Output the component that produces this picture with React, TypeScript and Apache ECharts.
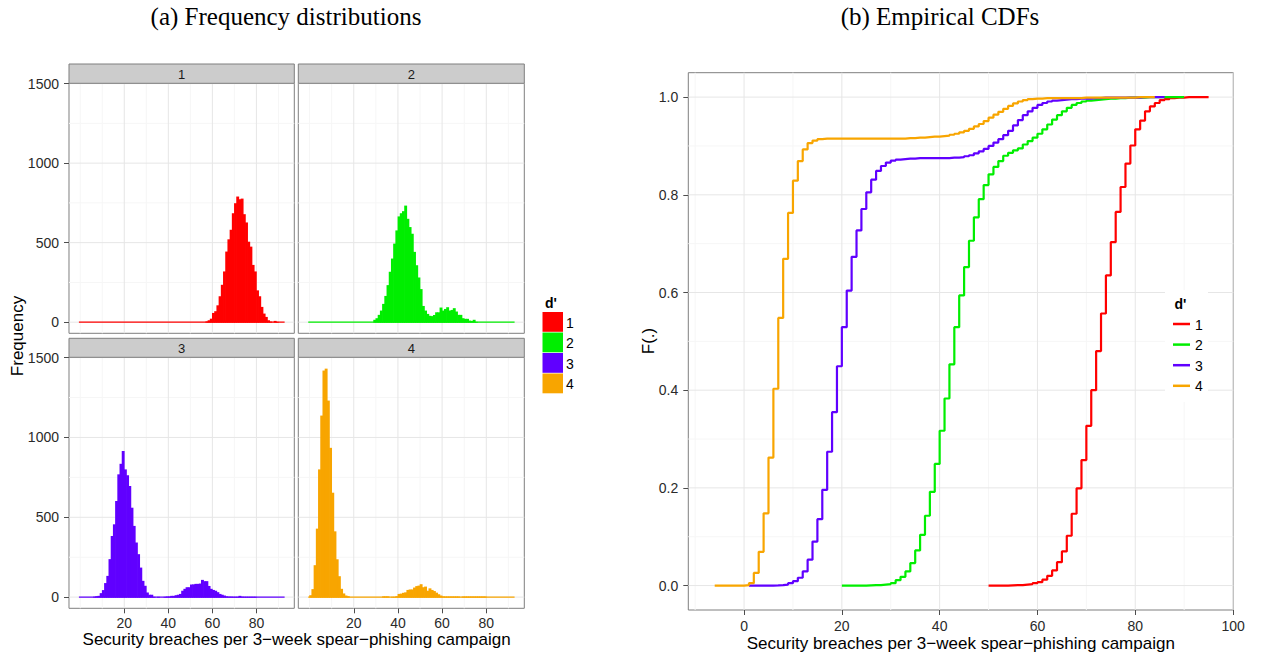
import React, { useEffect, useRef } from 'react';
import * as echarts from 'echarts';

// ---------- data ----------
const GROUPS = ['1', '2', '3', '4'];
const COLORS = ['#FF0000', '#00EE00', '#6000FF', '#F8A500'];

// histogram counts per unit bin [k, k+1), starting at HIST_STARTS[g]
const HIST_STARTS = [57, 29, 6, 0];
const HIST_1 = [5, 12, 22, 58, 69, 106, 163, 235, 319, 444, 521, 581, 685, 748, 790, 773, 777, 679, 627, 506, 475, 360, 319, 200, 163, 96, 54, 33, 12, 4, 0, 8, 2];
const HIST_2 = [15, 25, 46, 73, 115, 165, 233, 317, 400, 494, 577, 665, 685, 698, 733, 650, 598, 556, 442, 358, 281, 208, 102, 73, 52, 40, 38, 45, 62, 62, 92, 73, 83, 94, 73, 77, 88, 67, 46, 46, 25, 21, 21, 10, 8, 15, 2];
const HIST_3 = [3, 6, 8, 25, 44, 88, 133, 238, 383, 456, 602, 769, 835, 915, 800, 763, 696, 560, 446, 342, 269, 185, 102, 71, 29, 15, 15, 2, 0, 2, 0, 0, 2, 4, 4, 8, 8, 12, 15, 20, 40, 52, 62, 62, 79, 80, 83, 83, 85, 108, 100, 100, 70, 52, 45, 40, 31, 20, 15, 10, 5, 3, 3, 2, 2, 2, 8, 3, 2, 2, 2, 2, 2, 2];
const HIST_4 = [12, 50, 200, 429, 800, 1137, 1419, 1431, 1231, 935, 654, 412, 237, 131, 52, 23, 10, 6, 0, 0, 0, 0, 0, 0, 0, 0, 0, 0, 0, 0, 0, 0, 0, 5, 5, 5, 0, 2, 2, 6, 20, 22, 27, 30, 45, 48, 48, 60, 69, 72, 81, 62, 66, 40, 55, 45, 38, 28, 18, 10, 5, 4, 4, 4, 4, 4, 4, 4, 0, 4, 4, 4, 4, 4, 4, 4, 4, 4, 4, 4];
const HISTS = [HIST_1, HIST_2, HIST_3, HIST_4];
const BIN_RANGE = [-0.6, 92.8];

// empirical CDF value at each integer, starting at CDF_STARTS[g]
const CDF_STARTS = [50, 20, 1, -6];
const CDF_1 = [0, 0, 0, 0, 0.0005, 0.001, 0.001, 0.002, 0.003, 0.005,
  0.007, 0.012, 0.020, 0.031, 0.048, 0.070, 0.102, 0.147, 0.199, 0.257,
  0.327, 0.400, 0.480, 0.557, 0.635, 0.703, 0.765, 0.816, 0.864, 0.901,
  0.934, 0.952, 0.971, 0.981, 0.988, 0.994, 0.996, 0.998, 0.999, 0.999,
  1, 1, 1, 1, 1, 1];
const CDF_2 = [0, 0, 0, 0, 0, 0.0005, 0.001, 0.001, 0.002, 0.003,
  0.005, 0.011, 0.018, 0.029, 0.046, 0.072, 0.104, 0.143, 0.192, 0.249,
  0.317, 0.383, 0.453, 0.529, 0.594, 0.652, 0.706, 0.754, 0.791, 0.820,
  0.842, 0.857, 0.869, 0.880, 0.886, 0.891, 0.895, 0.903, 0.910, 0.917,
  0.925, 0.934, 0.944, 0.954, 0.963, 0.971, 0.978, 0.984, 0.988, 0.991,
  0.993, 0.994, 0.995, 0.996, 0.997, 0.997, 0.998, 0.998, 0.999, 0.999,
  0.999, 0.999, 1, 1, 1, 1, 1, 1, 1, 1, 1];
const CDF_3 = [0, 0, 0, 0, 0, 0.0003, 0.0008, 0.002, 0.005, 0.009,
  0.016, 0.029, 0.053, 0.090, 0.136, 0.196, 0.274, 0.355, 0.449, 0.529,
  0.604, 0.673, 0.727, 0.771, 0.805, 0.831, 0.849, 0.859, 0.866, 0.870,
  0.872, 0.873, 0.874, 0.874, 0.875, 0.875, 0.875, 0.875, 0.875, 0.875,
  0.875, 0.876, 0.876, 0.877, 0.879, 0.881, 0.885, 0.889, 0.894, 0.900,
  0.907, 0.914, 0.922, 0.931, 0.942, 0.953, 0.963, 0.971, 0.978, 0.984,
  0.988, 0.991, 0.993, 0.994, 0.995, 0.996, 0.996, 0.997, 0.997, 0.997,
  0.998, 0.998, 0.999, 0.999, 0.999, 0.999, 0.999, 0.999, 0.999, 0.999,
  1, 1, 1, 1, 1, 1];
const CDF_4 = [0, 0, 0, 0, 0, 0,
  0.001, 0.005, 0.026, 0.069, 0.148, 0.262, 0.403, 0.548, 0.669, 0.763,
  0.829, 0.869, 0.893, 0.906, 0.911, 0.914, 0.915, 0.915, 0.915, 0.915,
  0.915, 0.915, 0.915, 0.915, 0.915, 0.915, 0.915, 0.915, 0.915, 0.915,
  0.915, 0.915, 0.915, 0.916, 0.916, 0.917, 0.917, 0.918, 0.919, 0.919,
  0.920, 0.921, 0.923, 0.925, 0.928, 0.931, 0.935, 0.940, 0.945, 0.951,
  0.958, 0.964, 0.970, 0.976, 0.982, 0.987, 0.991, 0.994, 0.996, 0.997,
  0.997, 0.998, 0.998, 0.998, 0.998, 0.998, 0.998, 0.998, 0.998, 0.999,
  0.999, 0.999, 0.999, 0.999, 0.999, 0.999, 0.999, 0.999, 0.999, 0.999,
  1, 1, 1, 1, 1];
const CDFS = [CDF_1, CDF_2, CDF_3, CDF_4];

// axis breaks
const HX_BREAKS = [20, 40, 60, 80];
const HX_MINOR = [0, 10, 30, 50, 70, 90];
const HY_BREAKS = [0, 500, 1000, 1500];
const HY_MINOR = [250, 750, 1250];
const CX_BREAKS = [0, 20, 40, 60, 80, 100];
const CX_MINOR = [-10, 10, 30, 50, 70, 90];
const CY_BREAKS = [0, 0.2, 0.4, 0.6, 0.8, 1.0];
const CY_MINOR = [0.1, 0.3, 0.5, 0.7, 0.9];

const TITLE_A = '(a) Frequency distributions';
const TITLE_B = '(b) Empirical CDFs';
const X_TITLE = 'Security breaches per 3\u2212week spear\u2212phishing campaign';
const Y_TITLE_A = 'Frequency';
const Y_TITLE_B = 'F(.)';
const LEGEND_TITLE = "d'";

// ---------- styling / layout ----------
const SANS = '"Liberation Sans", Arial, Helvetica, sans-serif';
const SERIF = '"Liberation Serif", "Times New Roman", serif';
const MAJOR = '#e6e6e6';
const MINOR = '#f6f6f6';
const BORDER = '#7f7f7f';
const TICK_TXT = '#2a2a2a';

const PANELS = [
  { left: 69, top: 83.3, width: 225.3, height: 250 },
  { left: 298.3, top: 83.3, width: 226, height: 250 },
  { left: 69, top: 357.3, width: 225.3, height: 251 },
  { left: 298.3, top: 357.3, width: 226, height: 251 },
];
const CDF_GRID = { left: 688.3, top: 72.7, width: 545, height: 537.3 };
const HX_RANGE = [-5.1, 97.2];
const HY_RANGE = [-70, 1502];
const CX_RANGE = [-11.4, 100.05];
const CY_RANGE = [-0.05, 1.05];

function gridLineSeries(idx: number, xMaj: number[], xMin: number[], yMaj: number[], yMin: number[]) {
  const data = [
    ...xMin.map((v) => [v, 1]),
    ...yMin.map((v) => [v, 3]),
    ...xMaj.map((v) => [v, 0]),
    ...yMaj.map((v) => [v, 2]),
  ];
  return {
    type: 'custom',
    xAxisIndex: idx,
    yAxisIndex: idx,
    silent: true,
    z: 1,
    clip: false,
    data,
    renderItem: (params: any, api: any) => {
      const v = api.value(0);
      const k = api.value(1);
      const cs = params.coordSys;
      const stroke = k % 2 === 0 ? MAJOR : MINOR;
      if (k < 2) {
        const x = api.coord([v, 0])[0];
        return { type: 'line', shape: { x1: x, y1: cs.y, x2: x, y2: cs.y + cs.height }, style: { stroke, lineWidth: 1 } };
      }
      const y = api.coord([0, v])[1];
      return { type: 'line', shape: { x1: cs.x, y1: y, x2: cs.x + cs.width, y2: y }, style: { stroke, lineWidth: 1 } };
    },
  };
}

function axisCommon(show: boolean, values: number[], margin: number, fmt?: (v: number) => string) {
  return {
    splitLine: { show: false },
    axisLine: { show: false, onZero: false },
    axisTick: { show, length: 5, customValues: values, lineStyle: { color: '#4d4d4d', width: 1 } },
    axisLabel: {
      show,
      customValues: values,
      color: TICK_TXT,
      fontSize: 14,
      lineHeight: 12,
      fontFamily: SANS,
      margin,
      formatter: fmt ? (v: any) => fmt(Number(v)) : (v: any) => String(v),
    },
  };
}

function buildOption() {
  const grid: any[] = PANELS.map((p) => ({
    ...p,
    show: true,
    borderColor: BORDER,
    borderWidth: 1,
    backgroundColor: '#fff',
  }));
  grid.push({ ...CDF_GRID, show: true, borderColor: BORDER, borderWidth: 1, backgroundColor: '#fff' });

  const xAxis: any[] = PANELS.map((_, i) => ({
    type: 'value', gridIndex: i, min: HX_RANGE[0], max: HX_RANGE[1],
    ...axisCommon(i >= 2, HX_BREAKS, 9),
  }));
  xAxis.push({ type: 'value', gridIndex: 4, min: CX_RANGE[0], max: CX_RANGE[1], ...axisCommon(true, CX_BREAKS, 10) });

  const yAxis: any[] = PANELS.map((_, i) => ({
    type: 'value', gridIndex: i, min: HY_RANGE[0], max: HY_RANGE[1],
    ...axisCommon(i % 2 === 0, HY_BREAKS, 10),
  }));
  yAxis.push({
    type: 'value', gridIndex: 4, min: CY_RANGE[0], max: CY_RANGE[1],
    ...axisCommon(true, CY_BREAKS, 10, (v) => v.toFixed(1)),
  });

  const series: any[] = [];
  PANELS.forEach((_, i) => {
    series.push(gridLineSeries(i, HX_BREAKS, HX_MINOR, HY_BREAKS, HY_MINOR));
    series.push({
      type: 'line', xAxisIndex: i, yAxisIndex: i, silent: true, z: 2,
      data: [[BIN_RANGE[0], 0], [BIN_RANGE[1], 0]],
      symbol: 'none', lineStyle: { color: COLORS[i], width: 1.3 },
    });
    const start = HIST_STARTS[i];
    series.push({
      type: 'custom', xAxisIndex: i, yAxisIndex: i, silent: true, z: 3,
      data: HISTS[i].map((c, j) => [start + j, c]).filter((d) => d[1] > 0),
      renderItem: (params: any, api: any) => {
        const x = api.value(0);
        const c = api.value(1);
        const p0 = api.coord([x, 0]);
        const p1 = api.coord([x + 1, c]);
        return {
          type: 'rect',
          shape: { x: p0[0] - 0.35, y: p1[1], width: p1[0] - p0[0] + 0.7, height: p0[1] - p1[1] + 0.5 },
          style: { fill: COLORS[i] },
        };
      },
    });
  });

  series.push(gridLineSeries(4, CX_BREAKS, CX_MINOR, CY_BREAKS, CY_MINOR));
  CDFS.forEach((cdf, g) => {
    series.push({
      type: 'line', step: 'end', xAxisIndex: 4, yAxisIndex: 4, silent: true, z: 3 + g,
      name: GROUPS[g],
      data: cdf.map((f, j) => [CDF_STARTS[g] + j, f]),
      symbol: 'none',
      lineStyle: { color: COLORS[g], width: 2.2 },
    });
  });

  const txt = (text: string, x: number, y: number, font: string, opts: any = {}) => ({
    type: 'text', x, y, silent: true, rotation: opts.rotation || 0, z: 100,
    style: {
      text, font, fill: opts.fill || '#000',
      lineHeight: opts.lineHeight,
      align: opts.align || 'center', textAlign: opts.align || 'center',
      verticalAlign: 'middle', textVerticalAlign: 'middle',
    },
  });

  const elements: any[] = [];
  // titles
  elements.push(txt(TITLE_A, 286, 16, `25px ${SERIF}`));
  elements.push(txt(TITLE_B, 940, 16, `25px ${SERIF}`));
  // strips
  const stripTops = [64, 64, 338.3, 338.3];
  PANELS.forEach((p, i) => {
    elements.push({
      type: 'rect', silent: true, z: 50,
      shape: { x: p.left, y: stripTops[i], width: p.width, height: p.top - stripTops[i] },
      style: { fill: '#cccccc', stroke: BORDER, lineWidth: 1 },
    });
    elements.push(txt(GROUPS[i], p.left + p.width / 2, (stripTops[i] + p.top) / 2 + 0.5, `13px ${SANS}`, { fill: '#1a1a1a' }));
  });
  // axis titles
  elements.push(txt(X_TITLE, 296.6, 639, `17px ${SANS}`, { lineHeight: 13 }));
  elements.push(txt(X_TITLE, 960.8, 643.5, `17px ${SANS}`, { lineHeight: 13 }));
  elements.push(txt(Y_TITLE_A, 17, 336, `17px ${SANS}`, { rotation: Math.PI / 2 }));
  elements.push(txt(Y_TITLE_B, 648, 341, `17px ${SANS}`, { rotation: Math.PI / 2 }));

  // legend (a)
  elements.push(txt(LEGEND_TITLE, 545, 302.5, `bold 14px ${SANS}`, { align: 'left' }));
  GROUPS.forEach((g, i) => {
    const y0 = 312 + 20.5 * i;
    elements.push({
      type: 'rect', silent: true, z: 50,
      shape: { x: 542.5, y: y0, width: 20.5, height: 19.8 },
      style: { fill: COLORS[i] },
    });
    elements.push(txt(g, 566, y0 + 10.5, `14px ${SANS}`, { align: 'left' }));
  });

  // legend (b)
  elements.push({
    type: 'rect', silent: true, z: 60,
    shape: { x: 1165, y: 290, width: 43, height: 112 },
    style: { fill: '#ffffff' },
  });
  elements.push(txt(LEGEND_TITLE, 1174.5, 303.5, `bold 14px ${SANS}`, { align: 'left' }));
  GROUPS.forEach((g, i) => {
    const y0 = 324 + 20.6 * i;
    elements.push({
      type: 'line', silent: true, z: 100,
      shape: { x1: 1173, y1: y0, x2: 1190, y2: y0 },
      style: { stroke: COLORS[i], lineWidth: 2.5 },
    });
    elements.push(txt(g, 1195, y0 + 0.5, `14px ${SANS}`, { align: 'left' }));
  });

  return {
    animation: false,
    backgroundColor: '#ffffff',
    grid,
    xAxis,
    yAxis,
    series,
    graphic: { elements },
  };
}

export default function App() {
  const ref = useRef<HTMLDivElement>(null);
  useEffect(() => {
    if (!ref.current) return;
    const chart = echarts.init(ref.current, null, { renderer: 'svg' });
    chart.setOption(buildOption() as any);
    return () => chart.dispose();
  }, []);
  return (
    <div
      ref={ref}
      style={{ position: 'absolute', left: 0, top: 0, width: 1269, height: 652, background: '#fff' }}
    />
  );
}
